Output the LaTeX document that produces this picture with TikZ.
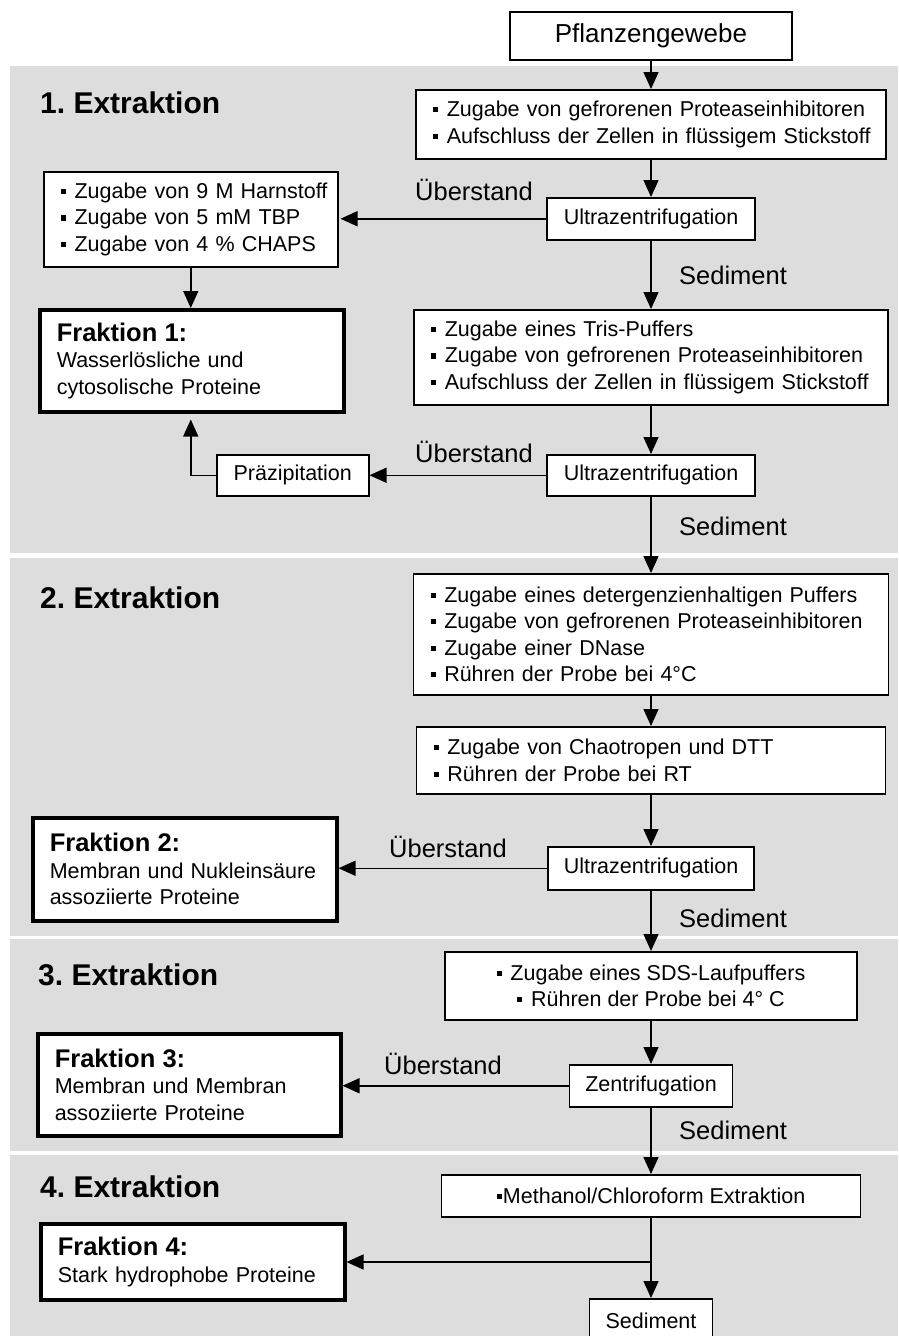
\documentclass[tikz,border=0pt]{standalone}
\usepackage{fontspec}
\setmainfont{Liberation Sans}
\usetikzlibrary{arrows.meta}
\definecolor{panelgray}{RGB}{221,221,221}
\newcommand\fs{\fontsize{21.5}{26.5}\selectfont}
\newcommand\flbl{\fontsize{25.5}{30}\selectfont}
\newcommand\fhead{\fontsize{30}{34}\selectfont\bfseries}
\newcommand\ftitle{\fontsize{25.5}{29}\selectfont\bfseries}
\newcommand\bul{\rule[0.2em]{0.24em}{0.24em}\hspace{0.4em}}
\newcommand\li[1]{\mbox{\bul #1}}
\frenchspacing
\begin{document}
\begin{tikzpicture}[x=1pt,y=-1pt,
  panel/.style={fill=panelgray},
  box/.style={draw, fill=white, line width=1.5pt, inner xsep=17pt, inner ysep=2pt, align=left, font=\fs},
  cbox/.style={draw, fill=white, line width=1.5pt, inner xsep=4pt, inner ysep=2pt, align=center, font=\fs},
  frak/.style={draw, fill=white, line width=3.5pt, inner xsep=17pt, inner ysep=2pt, align=left, font=\fs, anchor=north west},
  lbl/.style={font=\flbl, inner sep=0pt},
  head/.style={font=\fhead, inner sep=0pt, anchor=west},
  arr/.style={line width=1.5pt, -{Triangle[length=17pt,width=15pt]}},
  ln/.style={line width=1.5pt}
]
\useasboundingbox (0,0) rectangle (898,1336);
\clip (0,0) rectangle (898,1336);
% panels
\fill[panel] (10,66) rectangle (898,553);
\fill[panel] (10,558) rectangle (898,936);
\fill[panel] (10,939) rectangle (898,1151);
\fill[panel] (10,1155) rectangle (898,1336);
% headings
\node[head] (h1) at (40,103) {1. Extraktion};
\node[head] (h2) at (40,598) {2. Extraktion};
\node[head] (h3) at (38,975) {3. Extraktion};
\node[head] (h4) at (40,1187) {4. Extraktion};
% central column
\node[cbox, font=\fontsize{26}{30}\selectfont, anchor=north, minimum width=282pt, minimum height=48pt] (P) at (651,11) {Pflanzengewebe};
\node[box, anchor=north, minimum width=470pt, minimum height=69pt, text width=436pt] (A) at (651,89)
  {\li{Zugabe von gefrorenen Proteaseinhibitoren}\\ \li{Aufschluss der Zellen in flüssigem Stickstoff}};
\node[cbox, anchor=north, minimum width=208pt, minimum height=42pt] (U1) at (651,197) {Ultrazentrifugation};
\node[box, anchor=north, minimum width=474pt, minimum height=95pt, text width=440pt] (C) at (651,309)
  {\li{Zugabe eines Tris-Puffers}\\ \li{Zugabe von gefrorenen Proteaseinhibitoren}\\ \li{Aufschluss der Zellen in flüssigem Stickstoff}};
\node[cbox, anchor=north, minimum width=208pt, minimum height=41pt] (U2) at (651,454) {Ultrazentrifugation};
\node[box, anchor=north, minimum width=475pt, minimum height=121pt, text width=441pt] (D) at (651,573)
  {\li{Zugabe eines detergenzienhaltigen Puffers}\\ \li{Zugabe von gefrorenen Proteaseinhibitoren}\\ \li{Zugabe einer DNase}\\ \li{Rühren der Probe bei 4°C}};
\node[box, anchor=north, minimum width=469pt, minimum height=67pt, text width=435pt] (E) at (651,726)
  {\li{Zugabe von Chaotropen und DTT}\\ \li{Rühren der Probe bei RT}};
\node[cbox, anchor=north, minimum width=206pt, minimum height=43pt] (U3) at (651,846) {Ultrazentrifugation};
\node[cbox, anchor=north, minimum width=412pt, minimum height=68pt] (F) at (651,951)
  {\li{Zugabe eines SDS-Laufpuffers}\\ \li{Rühren der Probe bei 4° C}};
\node[cbox, anchor=north, minimum width=163pt, minimum height=42pt] (Z) at (651,1064) {Zentrifugation};
\node[cbox, anchor=north, minimum width=419pt, minimum height=42pt] (G) at (651,1174)
  {\rule[0.2em]{0.24em}{0.24em}\hspace{0.05em}Methanol/Chloroform Extraktion};
\node[cbox, anchor=north, minimum width=123pt, minimum height=44pt] (S) at (651,1298) {Sediment};
% left column
\node[box, anchor=north west, minimum width=294pt, minimum height=95pt, text width=260pt] (B) at (43,171)
  {\li{Zugabe von 9 M Harnstoff}\\ \li{Zugabe von 5 mM TBP}\\ \li{Zugabe von 4 \% CHAPS}};
\node[frak, minimum width=304pt, minimum height=102pt, text width=270pt] (F1) at (38,308)
  {{\ftitle Fraktion 1:}\\ Wasserlösliche und\\ cytosolische Proteine};
\node[cbox, anchor=north west, minimum width=152pt, minimum height=41pt] (Pr) at (216,454) {Präzipitation};
\node[frak, minimum width=304pt, minimum height=103pt, text width=270pt] (F2) at (31,816)
  {{\ftitle Fraktion 2:}\\ Membran und Nukleinsäure\\ assoziierte Proteine};
\node[frak, minimum width=303pt, minimum height=102pt, text width=269pt] (F3) at (36,1032)
  {{\ftitle Fraktion 3:}\\ Membran und Membran\\ assoziierte Proteine};
\node[frak, minimum width=304pt, minimum height=76pt, text width=270pt] (F4) at (39,1222)
  {{\ftitle Fraktion 4:}\\ Stark hydrophobe Proteine};
% labels
\node[lbl] (ue1) at (474,190) {Überstand};
\node[lbl] (se1) at (733,275) {Sediment};
\node[lbl] (ue2) at (474,452) {Überstand};
\node[lbl] (se2) at (733,526) {Sediment};
\node[lbl] (ue3) at (448,847) {Überstand};
\node[lbl] (se3) at (733,918) {Sediment};
\node[lbl] (ue4) at (443,1064) {Überstand};
\node[lbl] (se4) at (733,1130) {Sediment};
% connectors
\draw[arr] (P.south) -- (A.north);
\draw[arr] (A.south) -- (U1.north);
\draw[arr, shorten >=2pt] (U1.west) -- (B.east |- U1.west);
\draw[arr] (U1.south) -- (C.north);
\draw[arr] (B.south) -- (B.south |- F1.north);
\draw[arr] (C.south) -- (U2.north);
\draw[arr] (U2.west) -- (Pr.east |- U2.west);
\draw[arr, shorten >=6pt] (Pr.west) -- (B.south |- Pr.west) -- (B.south |- F1.south);
\draw[arr] (U2.south) -- (D.north);
\draw[arr] (D.south) -- (E.north);
\draw[arr] (E.south) -- (U3.north);
\draw[arr] (U3.west) -- (F2.east |- U3.west);
\draw[arr] (U3.south) -- (F.north);
\draw[arr] (F.south) -- (Z.north);
\draw[arr] (Z.west) -- (F3.east |- Z.west);
\draw[arr] (Z.south) -- (G.north);
\coordinate (br) at (651,1262);
\draw[ln] (G.south) -- (br);
\draw[arr] (br) -- (S.north);
\draw[arr] (br) -- (F4.east |- br);
\end{tikzpicture}
\end{document}
